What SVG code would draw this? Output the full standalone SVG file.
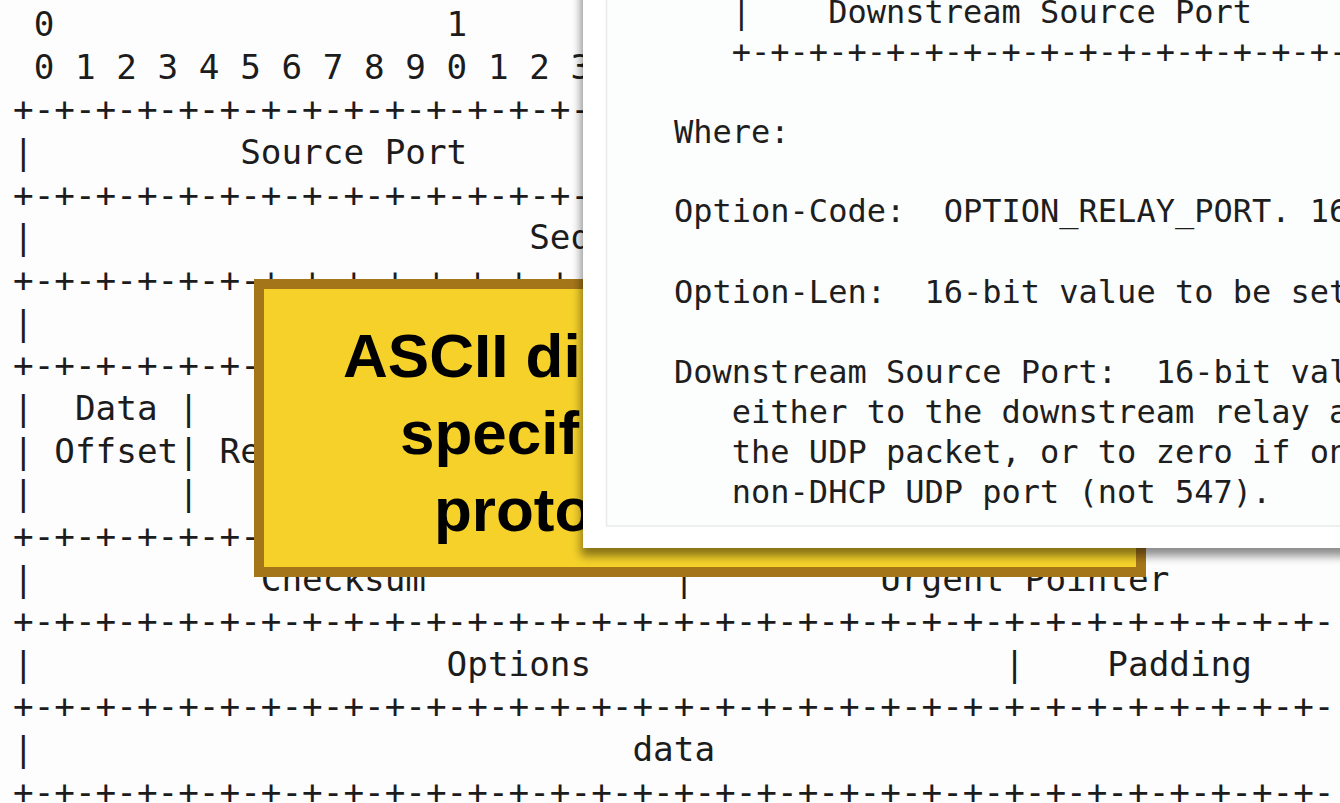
<svg xmlns="http://www.w3.org/2000/svg" width="1340" height="803" viewBox="0 0 1340 803">
  <style>
    .bg { font-family: "DejaVu Sans Mono", "Liberation Mono", monospace; font-size: 34.3px; fill: #1c1c1c; white-space: pre; }
    .pt { font-family: "DejaVu Sans Mono", "Liberation Mono", monospace; font-size: 32px; fill: #1e1e1e; white-space: pre; }
    .yt { font-family: "Liberation Sans", Arial, sans-serif; font-size: 62px; font-weight: bold; fill: #000; }
  </style>
  <defs>
    <filter id="shadow" x="-10%" y="-10%" width="130%" height="130%">
      <feDropShadow dx="-2" dy="8" stdDeviation="5" flood-color="#000" flood-opacity="0.45"/>
    </filter>
  </defs>
  <rect x="0" y="0" width="1340" height="803" fill="#fdfdfd"/>

  <g id="tcp-header" class="bg">
    <text class="bg" x="13" y="36"> 0                   1</text>
    <text class="bg" x="13" y="78.7"> 0 1 2 3 4 5 6 7 8 9 0 1 2 3</text>
    <text class="bg" x="13" y="121.3">+-+-+-+-+-+-+-+-+-+-+-+-+-+-</text>
    <text class="bg" x="13" y="164">|          Source Port</text>
    <text class="bg" x="13" y="206.6">+-+-+-+-+-+-+-+-+-+-+-+-+-+-</text>
    <text class="bg" x="13" y="249.3">|                        Seq</text>
    <text class="bg" x="13" y="291.9">+-+-+-+-+-+-+-+-+-+-+-+-+-+-</text>
    <text class="bg" x="13" y="334.6">|</text>
    <text class="bg" x="13" y="377.2">+-+-+-+-+-+-+</text>
    <text class="bg" x="13" y="419.9">|  Data |</text>
    <text class="bg" x="13" y="462.5">| Offset| Re</text>
    <text class="bg" x="13" y="505.2">|       |</text>
    <text class="bg" x="13" y="547.8">+-+-+-+-+-+-+</text>
    <text class="bg" x="13" y="590.5">|           Checksum            |         Urgent Pointer</text>
    <text class="bg" x="13" y="633.1">+-+-+-+-+-+-+-+-+-+-+-+-+-+-+-+-+-+-+-+-+-+-+-+-+-+-+-+-+-+-+-+-</text>
    <text class="bg" x="13" y="675.8">|                    Options                    |    Padding</text>
    <text class="bg" x="13" y="718.4">+-+-+-+-+-+-+-+-+-+-+-+-+-+-+-+-+-+-+-+-+-+-+-+-+-+-+-+-+-+-+-+-</text>
    <text class="bg" x="13" y="761.1">|                             data</text>
    <text class="bg" x="13" y="803.7">+-+-+-+-+-+-+-+-+-+-+-+-+-+-+-+-+-+-+-+-+-+-+-+-+-+-+-+-+-+-+-+-</text>
  </g>

  <g id="callout">
    <rect x="259" y="284" width="882" height="288" fill="#f5d12a" stroke="#a5751a" stroke-width="10"/>
    <text class="yt" x="343" y="377">ASCII di</text>
    <text class="yt" x="400" y="454">specif</text>
    <text class="yt" x="434" y="531">proto</text>
  </g>

  <g id="rfc-panel">
    <rect x="583" y="-30" width="800" height="578" fill="#ffffff" filter="url(#shadow)"/>
    <rect x="606.5" y="-30" width="760" height="556" fill="#fcfdfd" stroke="#e9eaea" stroke-width="1.5"/>
    <g class="pt">
      <text class="pt" x="674" y="23">   |    Downstream Source Port</text>
      <text class="pt" x="674" y="63">   +-+-+-+-+-+-+-+-+-+-+-+-+-+-+-+-</text>
      <text class="pt" x="674" y="143">Where:</text>
      <text class="pt" x="674" y="222">Option-Code:  OPTION_RELAY_PORT. 16</text>
      <text class="pt" x="674" y="303">Option-Len:  16-bit value to be set</text>
      <text class="pt" x="674" y="383">Downstream Source Port:  16-bit val</text>
      <text class="pt" x="674" y="423">   either to the downstream relay a</text>
      <text class="pt" x="674" y="463">   the UDP packet, or to zero if on</text>
      <text class="pt" x="674" y="503">   non-DHCP UDP port (not 547).</text>
    </g>
  </g>
</svg>
